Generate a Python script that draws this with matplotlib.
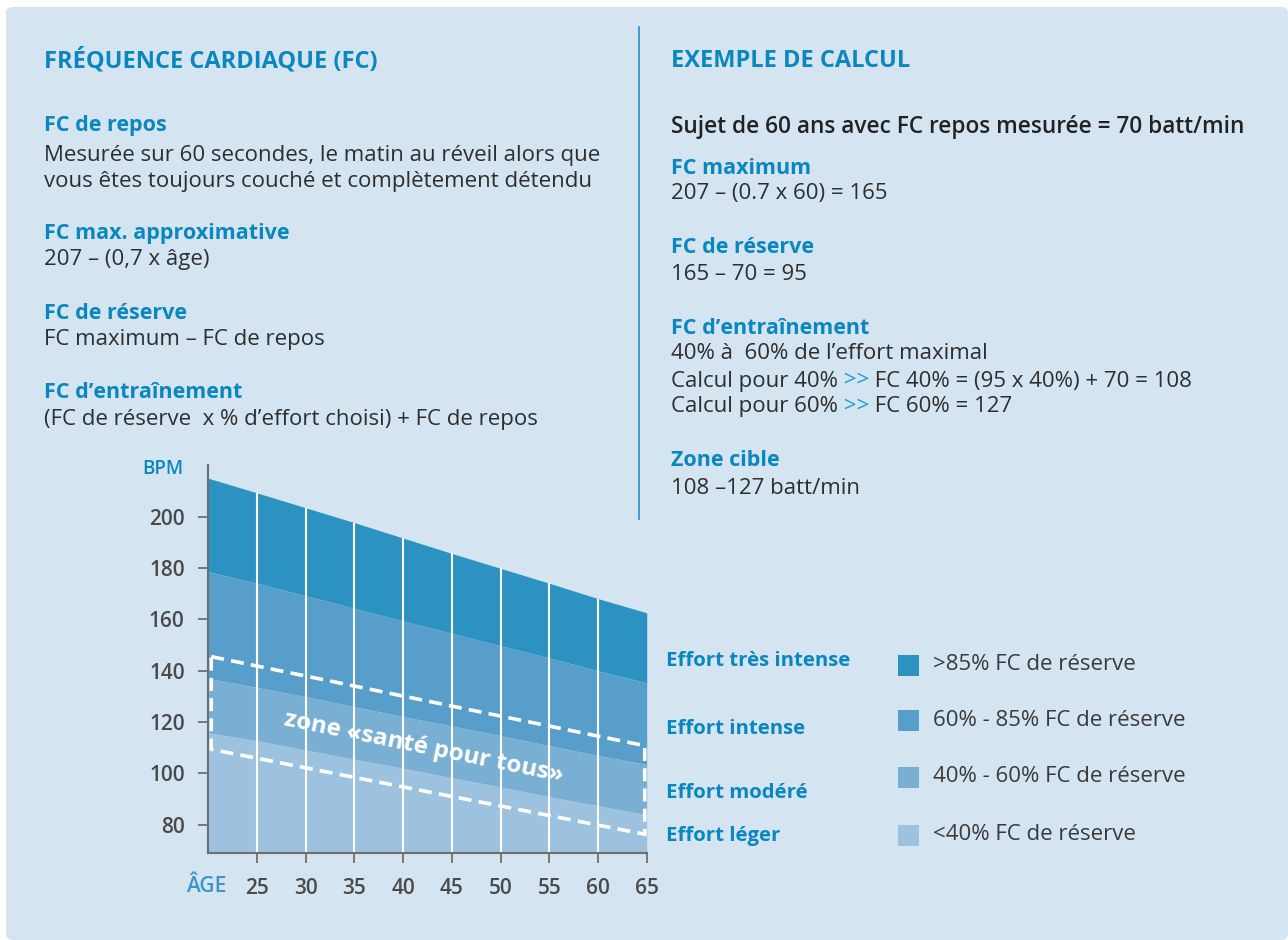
import matplotlib
matplotlib.use('Agg')
import matplotlib.pyplot as plt
from matplotlib.patches import FancyBboxPatch, Rectangle, Polygon
from matplotlib.lines import Line2D

# data
ages = [20, 25, 30, 35, 40, 45, 50, 55, 60, 65]
fc_max = [215.0, 209.3, 203.5, 197.7, 191.7, 185.7, 179.9, 174.1, 168.1, 162.6]
fc_85 = [178.6, 174.1, 169.2, 164.3, 159.4, 154.6, 149.7, 145.0, 140.0, 135.3]
fc_60 = [137.0, 133.5, 129.9, 126.0, 122.1, 118.5, 114.7, 110.8, 107.0, 103.5]
fc_40 = [115.8, 112.7, 109.1, 105.5, 102.0, 98.3, 94.7, 90.9, 87.4, 83.9]

# dashed "santé pour tous" zone (corners)
zone_ages = [20.3, 64.8]
zone_top = [145.5, 110.8]
zone_bottom = [109.4, 76.3]

zone_names = ['Effort très intense', 'Effort intense', 'Effort modéré', 'Effort léger']
zone_ranges = ['>85% FC de réserve', '60% - 85% FC de réserve',
               '40% - 60% FC de réserve', '<40% FC de réserve']
zone_colors = ['#2b92c2', '#579fca', '#7aafd4', '#9cc2df']

y_min, y_max = 69, 220
yticks = [80, 100, 120, 140, 160, 180, 200]

BLUE = '#0a87bf'
DARK = '#2e2e2e'
BG = '#d4e4f1'
W, H = 1288, 940

plt.rcParams['font.family'] = ['Open Sans', 'DejaVu Sans']

fig = plt.figure(figsize=(W / 100, H / 100), dpi=100)
fig.patch.set_facecolor('white')
fig.add_artist(FancyBboxPatch((6 / W, 0), (W - 6) / W, (H - 7) / H,
                              boxstyle='round,pad=0,rounding_size=0.006',
                              transform=fig.transFigure, facecolor=BG,
                              edgecolor='none', zorder=0))


def txt(x, y, s, **kw):
    kw.setdefault('va', 'center')
    return fig.text(x / W, 1 - y / H, s, **kw)


def txt_parts(x, y, parts, **kw):
    r = fig.canvas.get_renderer()
    for s, c in parts:
        t = txt(x, y, s, color=c, **kw)
        x += t.get_window_extent(r).width


TITLE = dict(color=BLUE, fontsize=17, weight='bold')
HEAD = dict(color=BLUE, fontsize=15.5, weight='bold')
BODY = dict(color=DARK, fontsize=16)

# left column
txt(44, 61, 'FRÉQUENCE CARDIAQUE (FC)', **TITLE)
txt(44, 126, 'FC de repos', **HEAD)
txt(44, 155, 'Mesurée sur 60 secondes, le matin au réveil alors que', **BODY)
txt(44, 181, 'vous êtes toujours couché et complètement détendu', **BODY)
txt(44, 233, 'FC max. approximative', **HEAD)
txt(44, 259, '207 – (0,7 x âge)', **BODY)
txt(44, 313, 'FC de réserve', **HEAD)
txt(44, 340, 'FC maximum – FC de repos', **BODY)
txt(44, 393, 'FC d’entraînement', **HEAD)
txt(44, 420, '(FC de réserve  x % d’effort choisi) + FC de repos', **BODY)

# right column
txt(671, 61, 'EXEMPLE DE CALCUL', **TITLE)
txt(671, 127, 'Sujet de 60 ans avec FC repos mesurée = 70 batt/min',
    color='#222222', fontsize=16.3, weight='semibold')
txt(671, 168, 'FC maximum', **HEAD)
txt(671, 194, '207 – (0.7 x 60) = 165', **BODY)
txt(671, 248, 'FC de réserve', **HEAD)
txt(671, 274, '165 – 70 = 95', **BODY)
txt(671, 328, 'FC d’entraînement', **HEAD)
txt(671, 354, '40% à  60% de l’effort maximal', **BODY)
txt_parts(671, 381, [('Calcul pour 40%', DARK), (' >>', '#1a9ad6'),
                     (' FC 40% = (95 x 40%) + 70 = 108', DARK)], fontsize=16)
txt_parts(671, 407, [('Calcul pour 60%', DARK), (' >>', '#1a9ad6'),
                     (' FC 60% = 127', DARK)], fontsize=16)
txt(671, 461, 'Zone cible', **HEAD)
txt(671, 488, '108 –127 batt/min', **BODY)

fig.add_artist(Line2D([639 / W, 639 / W], [1 - 27 / H, 1 - 519 / H],
                      color='#2a8fc1', lw=1.2))

# chart
ax = fig.add_axes([208.3 / W, 1 - 853 / H, (646.7 - 208.3) / W, (853 - 465.4) / H])
ax.set_facecolor('none')
bands = [(fc_85, fc_max), (fc_60, fc_85), (fc_40, fc_60), ([y_min] * len(ages), fc_40)]
for (lo, hi), c in zip(bands, zone_colors):
    ax.fill_between(ages, lo, hi, color=c, lw=0, zorder=1)
for a, top in zip(ages[1:-1], fc_max[1:-1]):
    ax.vlines(a, y_min, top, color='white', lw=1.5, zorder=2)

zone = Polygon([(zone_ages[0], zone_top[0]), (zone_ages[1], zone_top[1]),
                (zone_ages[1], zone_bottom[1]), (zone_ages[0], zone_bottom[0])],
               closed=True, fill=False, edgecolor='white', lw=2.6,
               linestyle=(0, (3.6, 2.0)), zorder=3, clip_on=False)
ax.add_patch(zone)
ax.text(42.1, 110.2, 'zone «santé pour tous»', rotation=-11.5,
        rotation_mode='anchor', ha='center', va='center', color='white',
        weight='bold', fontsize=17.5, zorder=4)

ax.set_xlim(20, 65)
ax.set_ylim(y_min, y_max)
ax.set_xticks(ages[1:])
ax.set_yticks(yticks)
for s in ['top', 'right']:
    ax.spines[s].set_visible(False)
for s in ['left', 'bottom']:
    ax.spines[s].set_color('#6e6e6e')
    ax.spines[s].set_linewidth(1.5)
    ax.spines[s].set_zorder(5)
ax.tick_params(axis='both', color='#6e6e6e', width=1.3, length=7,
               labelsize=15, labelcolor='#4a4a4a')
ax.tick_params(axis='y', pad=10)
ax.tick_params(axis='x', pad=11)
for lab in ax.get_xticklabels() + ax.get_yticklabels():
    lab.set_fontweight('semibold')

txt(163, 469, 'BPM', color=BLUE, fontsize=13.5, weight='semibold', ha='center')
txt(206, 887, 'ÂGE', color='#3a96ca', fontsize=15, weight='semibold', ha='center')

# legend
label_y = [661, 729, 793, 836]
box_y = [655, 710, 767, 825]
for name, rng, c, ly, by in zip(zone_names, zone_ranges, zone_colors, label_y, box_y):
    txt(666, ly, name, color=BLUE, fontsize=14.7, weight='bold')
    fig.add_artist(Rectangle((898 / W, 1 - (by + 20.7) / H), 20.7 / W, 20.7 / H,
                             transform=fig.transFigure, facecolor=c, edgecolor='none'))
    txt(933, by + 10, rng, color='#3a3a3a', fontsize=16)

fig.savefig('out.png', dpi=100)
